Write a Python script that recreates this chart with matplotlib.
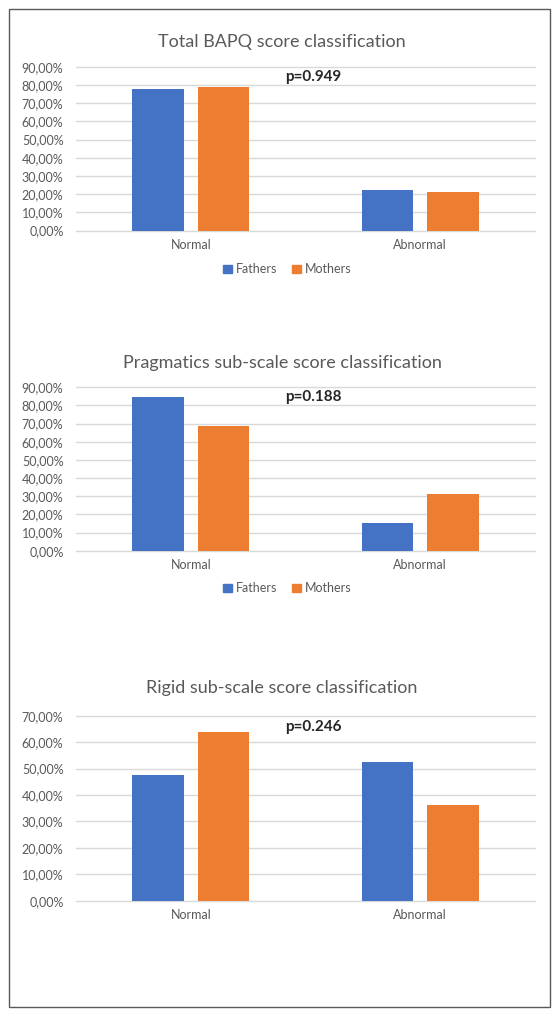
import matplotlib
matplotlib.use("Agg")
import matplotlib.pyplot as plt
import numpy as np
from matplotlib.patches import Rectangle, Patch
from matplotlib.ticker import FuncFormatter, MultipleLocator

plt.rcParams['font.family'] = ['Lato', 'DejaVu Sans']

categories = ["Normal", "Abnormal"]
series_names = ["Fathers", "Mothers"]

titles = ["Total BAPQ score classification",
          "Pragmatics sub-scale score classification",
          "Rigid sub-scale score classification"]

fathers_total = [77.9, 22.1]
mothers_total = [78.7, 21.3]
fathers_prag = [84.8, 15.2]
mothers_prag = [68.9, 31.1]
fathers_rigid = [47.6, 52.4]
mothers_rigid = [63.7, 36.3]

p_values = ["p=0.949", "p=0.188", "p=0.246"]
y_max = [90, 90, 70]

blue = '#4472C4'
orange = '#ED7D31'
gray = '#595959'
grid_gray = '#D9D9D9'

W, H = 559, 1024
fig = plt.figure(figsize=(W / 100, H / 100), dpi=100)
fig.patch.set_facecolor('white')

# outer frame
fig.patches.append(Rectangle((9 / W, 1 - 1007 / H), 541 / W, 998 / H,
                             transform=fig.transFigure, fill=False,
                             edgecolor=gray, lw=1.0))

# panel pixel layout: (top gridline y, zero line y, title y, legend y or None)
panels = [(66.7, 230.5, 41.7, 269.3),
          (387.3, 550.7, 362.7, 588.3),
          (715.7, 900.7, 688.0, None)]

data = [(fathers_total, mothers_total),
        (fathers_prag, mothers_prag),
        (fathers_rigid, mothers_rigid)]

left_px, right_px = 76, 535
bw = 0.225
off = 0.143
x = np.arange(len(categories))

pct = FuncFormatter(lambda v, pos: ("%.2f%%" % v).replace('.', ','))

for i in range(3):
    top, zero, ty, ly = panels[i]
    ax = fig.add_axes([left_px / W, 1 - zero / H, (right_px - left_px) / W, (zero - top) / H])
    f, m = data[i]
    ax.bar(x - off, f, bw, color=blue, zorder=3)
    ax.bar(x + off, m, bw, color=orange, zorder=3)
    ax.set_xlim(-0.5, 1.5)
    ax.set_ylim(0, y_max[i])
    ax.yaxis.set_major_locator(MultipleLocator(10))
    ax.yaxis.set_major_formatter(pct)
    ax.grid(axis='y', color=grid_gray, lw=1.0, zorder=0, clip_on=False)
    for s in ax.spines.values():
        s.set_visible(False)
    ax.set_xticks(x)
    ax.set_xticklabels(categories)
    ax.tick_params(axis='both', length=0, colors=gray, labelsize=9)
    ax.tick_params(axis='y', pad=9)
    ax.tick_params(axis='x', pad=6)
    ax.text(0.533, y_max[i] * 0.939, p_values[i], fontsize=11, fontweight='bold',
            color='#262626', ha='center', va='center')
    fig.text(282 / W, 1 - ty / H, titles[i], fontsize=13, color=gray, ha='center', va='center')
    if ly is not None:
        handles = [Patch(color=blue, label=series_names[0]), Patch(color=orange, label=series_names[1])]
        leg = fig.legend(handles=handles, loc='center', bbox_to_anchor=(287 / W, 1 - ly / H),
                         ncol=2, frameon=False, fontsize=9, handlelength=0.7, handleheight=0.7,
                         handletextpad=0.3, columnspacing=1.2)
        for t in leg.get_texts():
            t.set_color(gray)

fig.savefig("out.png", dpi=100, facecolor='white')
